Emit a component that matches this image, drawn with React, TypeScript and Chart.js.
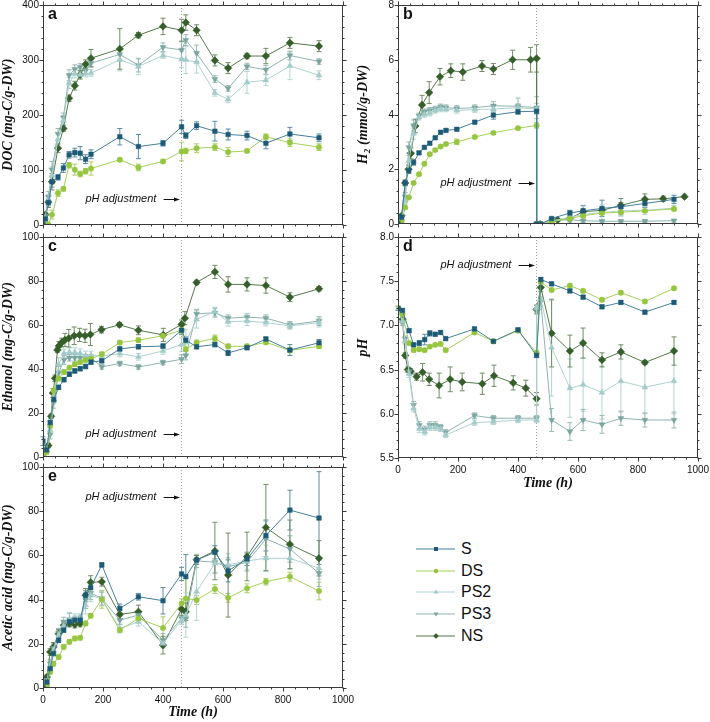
import React, { useEffect, useRef, useState } from 'react';
import { Chart, registerables } from 'chart.js';
Chart.register(...registerables);

// ---------- Panel a: DOC (mg-C/g-DW) ----------
const tA = [0, 8, 18, 30, 50, 68, 87, 106, 124, 142, 160, 256, 318, 400, 462, 476, 512, 573, 617, 680, 743, 823, 920];
const docS = [0, 10, 40, 78, 86, 103, 127, 131, 130, 119, 128, 160, 142, 148, 178, 162, 180, 170, 164, 162, 148, 165, 158];
const docSErr = [0, 3, 6, 10, 5, 8, 6, 8, 12, 8, 8, 15, 22, 5, 12, 5, 7, 18, 10, 8, 10, 12, 7];
const docDS = [0, null, 0, 18, 57, 65, 108, 100, 92, 97, 102, 118, 104, 115, 133, 134, 139, 141, 132, 134, 160, 149, 141];
const docDSErr = [0, 0, 0, 8, 6, 4, 5, 10, 5, 5, 12, 3, 6, 3, 17, 5, 8, 6, 8, 3, 5, 7, 6];
const docPS2 = [0, 12, 45, 90, 155, 190, 258, 275, 273, 275, 276, 300, 288, 308, 301, 300, 296, 240, 228, 259, 263, 289, 272];
const docPS2Err = [0, 5, 10, 15, 10, 8, 10, 8, 6, 6, 6, 20, 15, 5, 15, 25, 20, 6, 6, 20, 10, 25, 8];
const docPS3 = [0, 15, 50, 100, 165, 195, 272, 283, 287, 280, 294, 310, 290, 323, 318, 336, 312, 265, 248, 288, 282, 308, 297];
const docPS3Err = [0, 5, 10, 15, 10, 8, 10, 8, 6, 6, 6, 10, 12, 8, 15, 10, 15, 6, 5, 6, 8, 8, 5];
const docNS = [0, 18, 41, 78, 139, 175, 230, 253, 273, 292, 303, 320, 345, 361, 354, 368, 354, 299, 285, 307, 307, 331, 325];
const docNSErr = [0, 3, 10, 15, 8, 5, 6, 8, 8, 8, 16, 37, 5, 15, 20, 14, 10, 10, 10, 5, 14, 10, 10];
const docTicks = [0, 100, 200, 300, 400];

// ---------- Panel b: H2 (mmol/g-DW) ----------
const tB = [0, 12, 24, 36, 52, 70, 88, 106, 124, 142, 160, 196, 256, 318, 400, 462, 462, 476, 512, 573, 617, 680, 743, 823, 920];
const h2S = [0, 0.25, 1.5, 1.95, 2.25, 2.6, 2.8, 2.95, 3.15, 3.35, 3.42, 3.46, 3.72, 3.98, 4.1, 4.12, 0, 0, 0.2, 0.4, 0.48, 0.57, 0.63, 0.75, 0.9];
const h2SErr = [0, 0.05, 0.1, 0.1, 0.1, 0.05, 0.05, 0.05, 0.05, 0.05, 0.05, 0.05, 0.05, 0.15, 0.1, 0.1, 0, 0, 0.05, 0.1, 0.2, 0.3, 0.3, 0.15, 0.15];
const h2DS = [0, 0.1, 0.6, 0.97, 1.5, 1.82, 2.2, 2.55, 2.7, 2.83, 2.92, 3.0, 3.18, 3.33, 3.5, 3.6, 0, 0, 0.08, 0.2, 0.3, 0.4, 0.43, 0.48, 0.55];
const h2DSErr = [0, 0.05, 0.05, 0.05, 0.05, 0.05, 0.05, 0.05, 0.05, 0.05, 0.05, 0.1, 0.05, 0.05, 0.05, 0.1, 0, 0, 0.03, 0.05, 0.05, 0.05, 0.05, 0.05, 0.05];
const h2PS2 = [0, 0.2, 0.85, 2.3, 3.3, 3.9, 4.0, 4.05, 4.15, 4.2, 4.2, 4.15, 4.18, 4.2, 4.25, 4.2, 0, 0, 0.1, 0.25, 0.35, 0.42, 0.48, 0.5, 0.58];
const h2PS2Err = [0, 0.1, 0.15, 0.2, 0.2, 0.1, 0.1, 0.1, 0.1, 0.1, 0.1, 0.1, 0.1, 0.1, 0.15, 0.2, 0, 0, 0.1, 0.2, 0.3, 0.3, 0.2, 0.15, 0.1];
const h2PS3 = [0, 0.25, 1.0, 2.8, 3.6, 3.95, 4.1, 4.15, 4.2, 4.28, 4.25, 4.22, 4.25, 4.32, 4.3, 4.25, 0, 0, 0.15, 0.15, 0.12, 0.1, 0.1, 0.1, 0.12];
const h2PS3Err = [0, 0.1, 0.15, 0.2, 0.2, 0.1, 0.1, 0.1, 0.1, 0.1, 0.1, 0.1, 0.1, 0.15, 0.3, 0.4, 0, 0, 0.05, 0.05, 0.05, 0.05, 0.05, 0.05, 0.05];
const tB_NS = [0, 12, 24, 35, 43, 58, 80, 104, 140, 176, 216, 280, 318, 382, 442, 462, 462, 474, 532, 573, 617, 680, 743, 823, 884, 955];
const h2NS = [0, 0.3, 1.5, 2.0, 2.58, 3.58, 4.35, 4.8, 5.38, 5.6, 5.55, 5.77, 5.66, 6.0, 6.0, 6.05, 0, 0, 0.15, 0.2, 0.45, 0.5, 0.68, 0.9, 0.92, 1.0];
const h2NSErr = [0, 0.05, 0.1, 0.15, 0.2, 0.25, 0.35, 0.4, 0.3, 0.25, 0.3, 0.2, 0.2, 0.35, 0.45, 0.5, 0, 0, 0.05, 0.05, 0.1, 0.1, 0.1, 0.2, 0.1, 0.05];
const h2Ticks = [0, 2, 4, 6, 8];

// ---------- Panel c: Ethanol (mg-C/g-DW) ----------
const tC = [0, 12, 24, 36, 52, 70, 88, 106, 124, 142, 160, 196, 256, 318, 400, 462, 476, 512, 573, 617, 680, 743, 823, 920];
const etS = [7, 3, 15.5, 26, 31.5, 35, 37.5, 39, 40, 41, 43, 43.6, 49, 50, 50.3, 57.5, 53, 50, 51, 47.2, 49.6, 53.5, 48.5, 51.8];
const etSErr = [2, 1, 1, 1.5, 1, 1, 1, 1, 1, 1, 1, 1, 1, 1, 1, 2, 1.5, 1, 1, 1.2, 1, 1, 2.5, 1.5];
const etDS = [0, 2, 14, 30, 35.5, 38.5, 40.5, 42, 43, 44, 44.5, 46.6, 51.9, 53, 55, 57.5, 48.8, 52, 53.8, 50.2, 50.2, 52, 48.3, 50.2];
const etDSErr = [0, 1, 1, 1, 1, 1, 1, 1, 1, 1, 1, 1, 1, 1, 1, 1.5, 1, 1, 1.5, 1, 1, 1, 1, 1];
const etPS2 = [0, 3, 12, 28, 42, 47, 47.5, 47.5, 47, 46, 46, 45.8, 46.9, 45.4, 48.1, 51, 52, 62.5, 66, 61.4, 61.7, 61, 59.5, 61];
const etPS2Err = [0, 1, 2, 3, 3, 2, 2, 2, 2, 2, 2, 1.5, 1.5, 1.5, 1.5, 3, 6, 4, 2, 2, 2, 1.5, 1.5, 2];
const etPS3 = [0, 3, 10, 25, 38, 44, 45, 45, 45, 45, 45, 40.8, 42.4, 40.8, 42.8, 44.3, 46, 65, 65.5, 63, 63.5, 63, 60, 61.7];
const etPS3Err = [0, 1, 2, 3, 3, 2, 1.5, 1.5, 1.5, 1.5, 1.5, 1, 1, 1, 1, 2, 2, 2, 2, 1.5, 1.5, 1.5, 1.5, 2];
const tC_NS = [0, 18, 27, 33, 40, 48, 53, 62, 73, 86, 104, 122, 140, 158, 195, 255, 318, 401, 462, 473, 512, 573, 617, 680, 743, 823, 920];
const etNS = [0, 5, 18.3, 28.9, 35.6, 48.5, 50.4, 51.9, 53.1, 53.9, 55, 55.4, 55, 55.6, 57.8, 60, 57.5, 55.4, 60.2, 63, 79.3, 84.1, 78.4, 78.4, 77.9, 72.6, 76.4];
const etNSErr = [0, 1, 1, 2, 1.5, 1, 2, 2, 3, 4, 4, 3, 3, 5, 1.5, 1, 2, 3, 2, 3, 1, 3, 3.5, 3, 3.5, 2, 1];
const etTicks = [0, 20, 40, 60, 80, 100];

// ---------- Panel d: pH ----------
const tD = [0, 15, 24, 37, 52, 71, 89, 106, 124, 142, 159, 255, 318, 400, 462, 462, 476, 512, 573, 617, 680, 743, 823, 920];
const phS = [7.19, 7.17, null, 6.94, 6.78, 6.8, 6.84, 6.91, 6.9, 6.92, 6.85, 6.96, 6.82, 6.95, 6.66, null, 7.52, 7.47, 7.39, 7.32, 7.21, 7.26, 7.15, 7.26];
const phSErr = [0.02, 0.02, 0, 0.02, 0.02, 0.03, 0.06, 0.03, 0.02, 0.02, 0.02, 0.02, 0.02, 0.02, 0.02, 0, 0.02, 0.02, 0.02, 0.02, 0.02, 0.02, 0.02, 0.02];
const phDS = [7.2, 7.13, null, 6.8, 6.72, 6.73, 6.72, 6.76, 6.78, 6.79, 6.72, 6.92, 6.82, 6.94, 6.69, null, 7.49, 7.4, 7.45, 7.39, 7.29, 7.37, 7.27, 7.42];
const phDSErr = [0.02, 0.02, 0, 0.02, 0.02, 0.02, 0.02, 0.02, 0.02, 0.02, 0.02, 0.02, 0.02, 0.02, 0.02, 0, 0.02, 0.02, 0.02, 0.02, 0.02, 0.02, 0.02, 0.02];
const phPS2 = [7.19, 7.05, 6.82, 6.45, 6.06, 5.83, 5.8, 5.85, 5.85, 5.83, 5.76, 5.9, 5.91, 5.93, 5.93, 7.2, 7.3, 6.75, 6.29, 6.33, 6.24, 6.37, 6.3, 6.37];
const phPS2Err = [0, 0.03, 0.03, 0.04, 0.04, 0.04, 0.04, 0.04, 0.04, 0.03, 0.03, 0.03, 0.03, 0.03, 0.03, 0.03, 0.1, 0.55, 0.33, 0.3, 0.3, 0.35, 0.3, 0.37];
const phPS3 = [7.19, 7.03, 6.85, 6.48, 6.1, 5.87, 5.82, 5.87, 5.87, 5.85, 5.79, 5.98, 5.95, 5.95, 5.95, 7.17, 7.27, 5.93, 5.8, 5.93, 5.88, 5.95, 5.93, 5.93];
const phPS3Err = [0, 0.03, 0.03, 0.04, 0.04, 0.04, 0.04, 0.04, 0.04, 0.03, 0.03, 0.03, 0.03, 0.03, 0.03, 0.03, 0.05, 0.13, 0.1, 0.12, 0.1, 0.08, 0.08, 0.09];
const tD_NS = [0, 15, 24, 33, 42, 62, 82, 104, 137, 174, 214, 281, 320, 384, 426, 462, 462, 476, 512, 573, 617, 680, 743, 823, 920];
const phNS = [7.19, 7.07, 6.66, 6.5, 6.48, 6.42, 6.47, 6.39, 6.32, 6.39, 6.36, 6.34, 6.43, 6.35, 6.29, 6.17, 7.18, 7.43, 6.91, 6.71, 6.8, 6.61, 6.7, 6.58, 6.71];
const phNSErr = [0, 0.03, 0.03, 0.03, 0.03, 0.04, 0.1, 0.07, 0.14, 0.14, 0.1, 0.12, 0.12, 0.08, 0.09, 0.07, 0.05, 0.05, 0.38, 0.18, 0.17, 0.08, 0.08, 0.02, 0.16];
const phTicks = [5.5, 6.0, 6.5, 7.0, 7.5, 8.0];

// ---------- Panel e: Acetic acid (mg-C/g-DW) ----------
const tE = [0, 13, 24, 35, 52, 69, 88, 106, 124, 142, 159, 196, 256, 318, 400, 462, 476, 512, 573, 617, 680, 743, 823, 920];
const acS = [0, 2.7, 8.8, 15.6, 21.6, 26.2, 30, 30.7, 30.7, 42, 45.4, 55.7, 36, 41.3, 39.5, 51.6, 50.4, 57.9, 61.4, 53, 58.4, 69, 80.5, 76.9];
const acSErr = [0, 0.5, 1, 1, 1, 1, 1, 1, 1.5, 2, 2, 1, 2, 1.5, 6, 3, 10, 2, 3, 5, 3, 7, 9, 21];
const acDS = [0, 1.2, 7.3, 11, 14, 18.6, 20.9, 22.4, 22.7, 29.2, 32.7, 40.1, 26.2, 31.5, 27.2, 38.3, 40.5, 39.8, 44.8, 40.8, 45.1, 48.1, 50.4, 43.9];
const acDSErr = [0, 0.5, 1, 1, 1, 1, 1, 1, 1, 1, 1, 4, 1, 2, 5, 2, 9, 2, 2, 2, 2, 1.5, 2, 4];
const acPS2 = [0, 3, 10, 17, 24, 28, 30.7, 31.5, 31.5, 37.5, 42, 40.2, 26.9, 30, 20.1, 30.7, 33, 43.6, 56.4, 55.7, 57.5, 58.7, 58.7, 54.2];
const acPS2Err = [0, 1, 2, 2, 2, 2, 3, 2, 2, 4, 3, 3, 2, 2, 2, 2, 10, 13, 4, 5, 4, 6, 5, 5];
const acPS3 = [0, 3.5, 11, 18, 25, 30, 31, 30.5, 31, 40, 43, 40.5, 30.7, 33, 21.6, 31.5, 31.5, 57.5, 56.9, 54.9, 56.9, 67.5, 62.9, 51.9];
const acPS3Err = [0, 1, 2, 2, 2, 2, 3, 2, 2, 4, 3, 3, 2, 2, 3, 2, 4, 3, 5, 4, 4, 8, 6, 6];
const acNS = [0, 5, 16.3, 18.6, 24.5, 28.4, 29.2, 28.7, 29.2, 42, 47.8, 48.1, 33.3, 34.5, 19.4, 35.7, 34.5, 58, 62, 51.1, 59.5, 72.6, 65, 58.7];
const acNSErr = [0, 1, 1.5, 2, 2, 1.5, 1.5, 1.5, 1.5, 3, 3, 2, 2, 3, 4, 3, 4, 2, 13, 19, 11, 19.5, 11, 8];
const acTicks = [0, 20, 40, 60, 80, 100];

const SERIES = ['S', 'DS', 'PS2', 'PS3', 'NS'];
const xTickLabels = [0, 200, 400, 600, 800, 1000];
const PH_ADJUST_TIME = 460;

const STYLE: Record<string, any> = {
  S: { marker: '#1d5a77', line: '#47809b', err: '#5b8ca5', shape: 'rect', r: 3.2, rot: 0 },
  DS: { marker: '#96c63f', line: '#a6d05a', err: '#a9cf63', shape: 'circle', r: 2.7, rot: 0 },
  PS2: { marker: '#a3cbc9', line: '#aed2d0', err: '#b3d4d2', shape: 'triangle', r: 3.4, rot: 0 },
  PS3: { marker: '#7aa59f', line: '#8fb4af', err: '#98bab5', shape: 'triangle', r: 3.4, rot: 180 },
  NS: { marker: '#355e2a', line: '#557a49', err: '#6f8d63', shape: 'rectRot', r: 3.8, rot: 0 },
};

const SANS = "'Liberation Sans', Arial, Helvetica, sans-serif";
const SERIF = "'Liberation Serif', 'Times New Roman', 'DejaVu Serif', serif";

type Ser = { name: string; t: number[]; v: (number | null)[]; e: number[] };
type Panel = {
  id: string; left: number; top: number; width: number; height: number;
  padTop: number; padRight: number; yWidth: number; xHeight: number;
  yMin: number; yMax: number; yTicks: number[]; yMinor: number; dec: number;
  yTitle: string; showX: boolean; letter: string; annY: number; series: Ser[];
};

const PANELS: Panel[] = [
  {
    id: 'a', left: 0, top: 0, width: 355, height: 229, padTop: 5, padRight: 12, yWidth: 43, xHeight: 3,
    yMin: 0, yMax: 400, yTicks: docTicks, yMinor: 20, dec: 0, yTitle: 'DOC (mg-C/g-DW)', showX: false, letter: 'a', annY: 0.882,
    series: [
      { name: 'S', t: tA, v: docS, e: docSErr }, { name: 'DS', t: tA, v: docDS, e: docDSErr },
      { name: 'PS2', t: tA, v: docPS2, e: docPS2Err }, { name: 'PS3', t: tA, v: docPS3, e: docPS3Err },
      { name: 'NS', t: tA, v: docNS, e: docNSErr },
    ],
  },
  {
    id: 'b', left: 355, top: 0, width: 355, height: 229, padTop: 5, padRight: 12, yWidth: 43, xHeight: 5,
    yMin: 0, yMax: 8, yTicks: h2Ticks, yMinor: 0.4, dec: 0, yTitle: 'H\u2082 (mmol/g-DW)', showX: false, letter: 'b', annY: 0.813,
    series: [
      { name: 'S', t: tB, v: h2S, e: h2SErr }, { name: 'DS', t: tB, v: h2DS, e: h2DSErr },
      { name: 'PS2', t: tB, v: h2PS2, e: h2PS2Err }, { name: 'PS3', t: tB, v: h2PS3, e: h2PS3Err },
      { name: 'NS', t: tB_NS, v: h2NS, e: h2NSErr },
    ],
  },
  {
    id: 'c', left: 0, top: 229, width: 355, height: 232, padTop: 8, padRight: 12, yWidth: 43, xHeight: 3,
    yMin: 0, yMax: 100, yTicks: etTicks, yMinor: 4, dec: 0, yTitle: 'Ethanol (mg-C/g-DW)', showX: false, letter: 'c', annY: 0.897,
    series: [
      { name: 'S', t: tC, v: etS, e: etSErr }, { name: 'DS', t: tC, v: etDS, e: etDSErr },
      { name: 'PS2', t: tC, v: etPS2, e: etPS2Err }, { name: 'PS3', t: tC, v: etPS3, e: etPS3Err },
      { name: 'NS', t: tC_NS, v: etNS, e: etNSErr },
    ],
  },
  {
    id: 'd', left: 355, top: 229, width: 355, height: 264, padTop: 8, padRight: 12, yWidth: 43, xHeight: 35,
    yMin: 5.5, yMax: 8, yTicks: phTicks, yMinor: 0.1, dec: 1, yTitle: 'pH', showX: true, letter: 'd', annY: 0.126,
    series: [
      { name: 'S', t: tD, v: phS, e: phSErr }, { name: 'DS', t: tD, v: phDS, e: phDSErr },
      { name: 'PS2', t: tD, v: phPS2, e: phPS2Err }, { name: 'PS3', t: tD, v: phPS3, e: phPS3Err },
      { name: 'NS', t: tD_NS, v: phNS, e: phNSErr },
    ],
  },
  {
    id: 'e', left: 0, top: 461, width: 355, height: 261, padTop: 6, padRight: 12, yWidth: 43, xHeight: 34,
    yMin: 0, yMax: 100, yTicks: acTicks, yMinor: 4, dec: 0, yTitle: 'Acetic acid (mg-C/g-DW)', showX: true, letter: 'e', annY: 0.135,
    series: [
      { name: 'S', t: tE, v: acS, e: acSErr }, { name: 'DS', t: tE, v: acDS, e: acDSErr },
      { name: 'PS2', t: tE, v: acPS2, e: acPS2Err }, { name: 'PS3', t: tE, v: acPS3, e: acPS3Err },
      { name: 'NS', t: tE, v: acNS, e: acNSErr },
    ],
  },
];

const errorBars = {
  id: 'errorBars',
  beforeDatasetsDraw(chart: any) {
    const ctx = chart.ctx;
    const yS = chart.scales.y;
    chart.data.datasets.forEach((ds: any, di: number) => {
      const meta = chart.getDatasetMeta(di);
      ctx.save();
      ctx.strokeStyle = ds.errColor;
      ctx.lineWidth = 1;
      meta.data.forEach((pt: any, i: number) => {
        const raw = ds.data[i];
        if (!raw || !raw.e) return;
        const x = pt.x;
        const y1 = yS.getPixelForValue(raw.y + raw.e);
        const y2 = yS.getPixelForValue(raw.y - raw.e);
        ctx.beginPath();
        ctx.moveTo(x, y1); ctx.lineTo(x, y2);
        ctx.moveTo(x - 2.5, y1); ctx.lineTo(x + 2.5, y1);
        ctx.moveTo(x - 2.5, y2); ctx.lineTo(x + 2.5, y2);
        ctx.stroke();
      });
      ctx.restore();
    });
  },
};

const decor = {
  id: 'decor',
  beforeDatasetsDraw(chart: any) {
    const { ctx, chartArea: ca, scales } = chart;
    const px = Math.round(scales.x.getPixelForValue(PH_ADJUST_TIME)) + 0.5;
    ctx.save();
    ctx.strokeStyle = '#a0a0a0';
    ctx.lineWidth = 1;
    ctx.setLineDash([1, 2]);
    ctx.beginPath();
    ctx.moveTo(px, ca.top);
    ctx.lineTo(px, ca.bottom);
    ctx.stroke();
    ctx.restore();
  },
  afterDraw(chart: any, _a: any, o: any) {
    const { ctx, chartArea: ca, scales } = chart;
    const xs = scales.x, ys = scales.y;
    ctx.save();
    ctx.strokeStyle = '#3a3a3a';
    ctx.lineWidth = 1;
    const L = Math.round(ca.left) + 0.5, R = Math.round(ca.right) - 0.5;
    const T = Math.round(ca.top) + 0.5, B = Math.round(ca.bottom) - 0.5;
    ctx.strokeRect(L, T, R - L, B - T);
    ctx.beginPath();
    const nx = Math.round((xs.max - xs.min) / o.xMinor);
    for (let k = 0; k <= nx; k++) {
      const v = xs.min + k * o.xMinor;
      const major = Math.abs(v / o.xMajor - Math.round(v / o.xMajor)) < 1e-6;
      const len = major ? 4 : 2;
      const p = Math.round(xs.getPixelForValue(v)) + 0.5;
      ctx.moveTo(p, B); ctx.lineTo(p, B + len);
      ctx.moveTo(p, T); ctx.lineTo(p, T - len);
    }
    const ny = Math.round((ys.max - ys.min) / o.yMinor);
    for (let k = 0; k <= ny; k++) {
      const v = ys.min + k * o.yMinor;
      const major = o.yMajors.some((m: number) => Math.abs(m - v) < o.yMinor * 0.01);
      const len = major ? 4 : 2;
      const p = Math.round(ys.getPixelForValue(v)) + 0.5;
      ctx.moveTo(L, p); ctx.lineTo(L - len, p);
      ctx.moveTo(R, p); ctx.lineTo(R + len, p);
    }
    ctx.stroke();
    ctx.fillStyle = '#111';
    ctx.font = `bold 16px ${SANS}`;
    ctx.textBaseline = 'alphabetic';
    ctx.textAlign = 'left';
    ctx.fillText(o.letter, ca.left + 5, ca.top + 13.5);
    const ay = ca.top + o.annY * (ca.bottom - ca.top);
    ctx.font = `italic 11px ${SANS}`;
    ctx.textAlign = 'right';
    ctx.textBaseline = 'middle';
    ctx.fillText('pH adjustment', xs.getPixelForValue(378), ay);
    const x1 = xs.getPixelForValue(402), x2 = xs.getPixelForValue(PH_ADJUST_TIME) - 1;
    ctx.strokeStyle = '#111';
    ctx.beginPath();
    ctx.moveTo(x1, Math.round(ay) + 0.5);
    ctx.lineTo(x2 - 4, Math.round(ay) + 0.5);
    ctx.stroke();
    ctx.beginPath();
    ctx.moveTo(x2, Math.round(ay) + 0.5);
    ctx.lineTo(x2 - 6, Math.round(ay) - 1.5);
    ctx.lineTo(x2 - 6, Math.round(ay) + 2.5);
    ctx.closePath();
    ctx.fill();
    ctx.restore();
  },
};

function buildDatasets(p: Panel) {
  return p.series.map((s) => {
    const st = STYLE[s.name];
    const data = s.t
      .map((t, i) => (s.v[i] == null ? null : { x: t, y: s.v[i] as number, e: s.e[i] || 0 }))
      .filter((d) => d !== null);
    return {
      label: s.name,
      data,
      borderColor: st.line,
      backgroundColor: st.marker,
      pointBackgroundColor: st.marker,
      pointBorderColor: st.marker,
      pointBorderWidth: 0.5,
      pointStyle: st.shape,
      pointRadius: st.r,
      pointRotation: st.rot,
      borderWidth: 1,
      tension: 0,
      fill: false,
      errColor: st.err,
    };
  });
}

type YLabel = { v: number; y: number; x: number };

function PanelChart({ p }: { p: Panel }) {
  const ref = useRef<HTMLCanvasElement>(null);
  const [yLabels, setYLabels] = useState<YLabel[]>([]);
  useEffect(() => {
    if (!ref.current) return;
    const chart = new Chart(ref.current, {
      type: 'line',
      data: { datasets: buildDatasets(p) as any },
      plugins: [errorBars, decor],
      options: {
        responsive: false,
        animation: false,
        devicePixelRatio: 1,
        layout: { padding: { top: p.padTop, right: p.padRight, left: 0, bottom: 0 } },
        plugins: {
          legend: { display: false },
          tooltip: { enabled: false },
          decor: { letter: p.letter, annY: p.annY, xMajor: 200, xMinor: 40, yMajors: p.yTicks, yMinor: p.yMinor },
        } as any,
        scales: {
          x: {
            type: 'linear', min: 0, max: 1000,
            grid: { display: false, drawTicks: false },
            border: { display: false },
            afterBuildTicks: (s: any) => { s.ticks = xTickLabels.map((v) => ({ value: v })); },
            ticks: {
              display: p.showX, padding: 6, color: '#111', font: { family: SANS, size: 10 },
              autoSkip: false, maxRotation: 0, callback: (v: any) => String(v),
            },
            title: {
              display: p.showX, text: 'Time (h)', color: '#111', padding: { top: 0, bottom: 1 },
              font: { family: SERIF, size: 14, style: 'italic', weight: 'bold' },
            },
            afterFit: (s: any) => { s.height = p.xHeight; s.paddingLeft = 0; s.paddingRight = 0; },
          },
          y: {
            type: 'linear', min: p.yMin, max: p.yMax,
            grid: { display: false, drawTicks: false },
            border: { display: false },
            afterBuildTicks: (s: any) => { s.ticks = p.yTicks.map((v) => ({ value: v })); },
            ticks: { display: false },
            title: {
              display: true, text: p.yTitle, color: '#111', padding: { top: 0, bottom: 0 },
              font: { family: SERIF, size: 14, style: 'italic', weight: 'bold' },
            },
            afterFit: (s: any) => { s.width = p.yWidth; s.paddingTop = 0; s.paddingBottom = 0; },
          },
        },
      } as any,
    });
    const ys: any = chart.scales.y;
    const ca = chart.chartArea;
    setYLabels(
      p.yTicks.map((v) => {
        let y = ys.getPixelForValue(v);
        if (!Number.isFinite(y)) y = ca.top + ((p.yMax - v) / (p.yMax - p.yMin)) * (ca.bottom - ca.top);
        return { v, y, x: ca.left };
      }),
    );
    return () => chart.destroy();
  }, [p]);
  return (
    <>
      <canvas
        ref={ref}
        width={p.width}
        height={p.height}
        style={{ position: 'absolute', left: p.left, top: p.top, width: p.width, height: p.height, zIndex: 1 }}
      />
      {yLabels.map((l) => (
        <div
          key={`${p.id}-${l.v}`}
          style={{
            position: 'absolute', left: p.left + l.x - 4 - 40, top: p.top + l.y - 6, width: 40, height: 12,
            lineHeight: '12px', textAlign: 'right', fontFamily: SANS, fontSize: 10, color: '#111',
            whiteSpace: 'nowrap', zIndex: 10,
          }}
        >
          {l.v.toFixed(p.dec)}
        </div>
      ))}
    </>
  );
}

function Marker({ name }: { name: string }) {
  const st = STYLE[name];
  const cx = 20, cy = 6;
  let shape: React.ReactNode = null;
  if (st.shape === 'rect') shape = <rect x={cx - 2} y={cy - 2} width={4} height={4} fill={st.marker} />;
  else if (st.shape === 'circle') shape = <circle cx={cx} cy={cy} r={2.2} fill={st.marker} />;
  else if (st.shape === 'rectRot') shape = <polygon points={`${cx},${cy - 2.8} ${cx + 2.8},${cy} ${cx},${cy + 2.8} ${cx - 2.8},${cy}`} fill={st.marker} />;
  else if (st.rot === 180) shape = <polygon points={`${cx - 2.6},${cy - 1.6} ${cx + 2.6},${cy - 1.6} ${cx},${cy + 2.4}`} fill={st.marker} />;
  else shape = <polygon points={`${cx - 2.6},${cy + 1.6} ${cx + 2.6},${cy + 1.6} ${cx},${cy - 2.4}`} fill={st.marker} />;
  return (
    <svg width={40} height={12} style={{ display: 'block' }}>
      <line x1={0} y1={cy} x2={39} y2={cy} stroke={st.line} strokeWidth={1.2} />
      {shape}
    </svg>
  );
}

function Legend() {
  return (
    <div style={{ position: 'absolute', left: 416, top: 538, fontFamily: SANS, fontSize: 16, color: '#111', zIndex: 10 }}>
      {SERIES.map((s) => (
        <div key={s} style={{ height: 21.7, display: 'flex', alignItems: 'center' }}>
          <Marker name={s} />
          <span style={{ marginLeft: 5, lineHeight: '16px' }}>{s}</span>
        </div>
      ))}
    </div>
  );
}

export default function App() {
  return (
    <div style={{ position: 'absolute', left: 0, top: 0, width: 710, height: 722, background: '#fff', overflow: 'hidden' }}>
      {PANELS.map((p) => (
        <PanelChart key={p.id} p={p} />
      ))}
      <Legend />
    </div>
  );
}
